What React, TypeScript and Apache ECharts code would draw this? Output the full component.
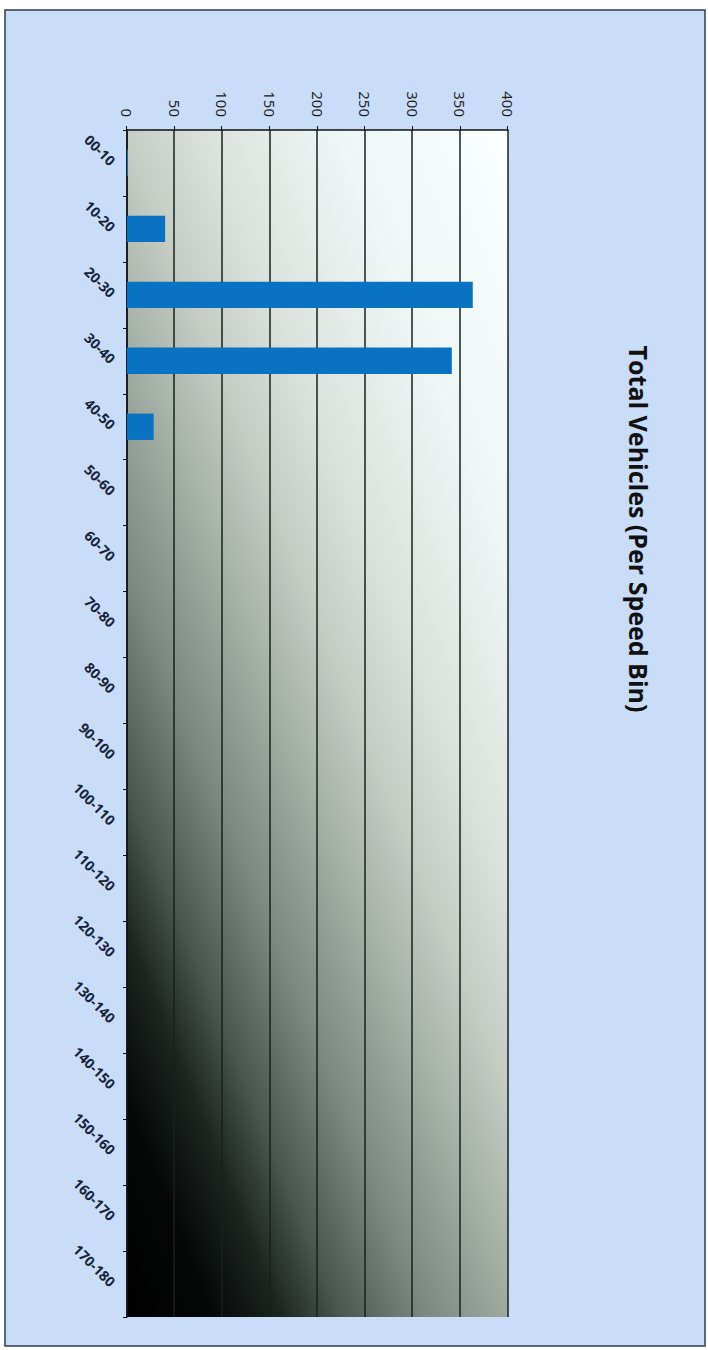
import React, { useEffect, useRef } from "react";
import * as echarts from "echarts";

// Speed bins (category axis)
const categories = [
  "00-10", "10-20", "20-30", "30-40", "40-50", "50-60", "60-70", "70-80", "80-90",
  "90-100", "100-110", "110-120", "120-130", "130-140", "140-150", "150-160", "160-170", "170-180",
];

// Total vehicles per speed bin
const vehicles = [1, 40, 363, 341, 28, 0, 0, 0, 0, 0, 0, 0, 0, 0, 0, 0, 0, 0];

// Value axis range
const valueMin = 0;
const valueMax = 400;
const valueStep = 50;

const chartTitle = "Total Vehicles (Per Speed Bin)";

export default function App() {
  const ref = useRef<HTMLDivElement>(null);

  useEffect(() => {
    if (!ref.current) return;
    const chart = echarts.init(ref.current, null, { renderer: "svg" });
    chart.setOption({
      animation: false,
      graphic: [
        {
          type: "rect",
          z: -10,
          silent: true,
          shape: { x: 10, y: 3, width: 1336, height: 700 },
          style: { fill: "#c9dcf8", stroke: "#2f3d4c", lineWidth: 1.5 },
        },
        {
          type: "text",
          x: 529,
          y: 69,
          style: {
            text: chartTitle,
            font: 'bold 25px "Open Sans"',
            fill: "#111111",
            textAlign: "center",
            textVerticalAlign: "middle",
            align: "center",
            verticalAlign: "middle",
          },
        },
      ],
      grid: {
        left: 130,
        top: 200,
        width: 1187,
        height: 381,
        show: true,
        borderWidth: 0,
        backgroundColor: {
          type: "linear",
          x: 130,
          y: 200,
          x2: 428,
          y2: 940,
          global: true,
          colorStops: [
            { offset: 0, color: "#fbffff" },
            { offset: 0.2, color: "#eef6f6" },
            { offset: 0.35, color: "#dce2dc" },
            { offset: 0.45, color: "#c4ccc4" },
            { offset: 0.55, color: "#a0aca2" },
            { offset: 0.65, color: "#7c8880" },
            { offset: 0.75, color: "#4a564e" },
            { offset: 0.82, color: "#1c2420" },
            { offset: 0.9, color: "#050706" },
            { offset: 1, color: "#000000" },
          ],
        },
      },
      xAxis: {
        type: "category",
        data: categories,
        axisLine: { show: true, lineStyle: { color: "#111111", width: 1.5 } },
        axisTick: { show: true, length: 4, lineStyle: { color: "#111111" } },
        axisLabel: {
          interval: 0,
          rotate: 45,
          margin: 14,
          color: "#14233a",
          fontFamily: "Open Sans",
          fontWeight: "bold",
          fontSize: 14,
        },
      },
      yAxis: {
        type: "value",
        min: valueMin,
        max: valueMax,
        interval: valueStep,
        axisLine: { show: true, lineStyle: { color: "#111111", width: 1.5 } },
        axisTick: { show: true, length: 4, lineStyle: { color: "#111111" } },
        axisLabel: {
          margin: 13,
          color: "#1a1a1a",
          fontFamily: "Open Sans",
          fontSize: 15,
        },
        splitLine: { show: true, lineStyle: { color: "#16221f", width: 1.5 } },
      },
      series: [
        {
          type: "bar",
          data: vehicles,
          barCategoryGap: "60%",
          itemStyle: { color: "#0a72c2" },
        },
      ],
    });
    return () => chart.dispose();
  }, []);

  return (
    <div
      style={{
        position: "fixed",
        left: 0,
        top: 0,
        width: 708,
        height: 1350,
        background: "#ffffff",
        overflow: "hidden",
      }}
    >
      <div
        ref={ref}
        style={{
          position: "absolute",
          left: 0,
          top: 0,
          width: 1350,
          height: 708,
          transformOrigin: "0 0",
          transform: "translateX(708px) rotate(90deg)",
        }}
      />
    </div>
  );
}
